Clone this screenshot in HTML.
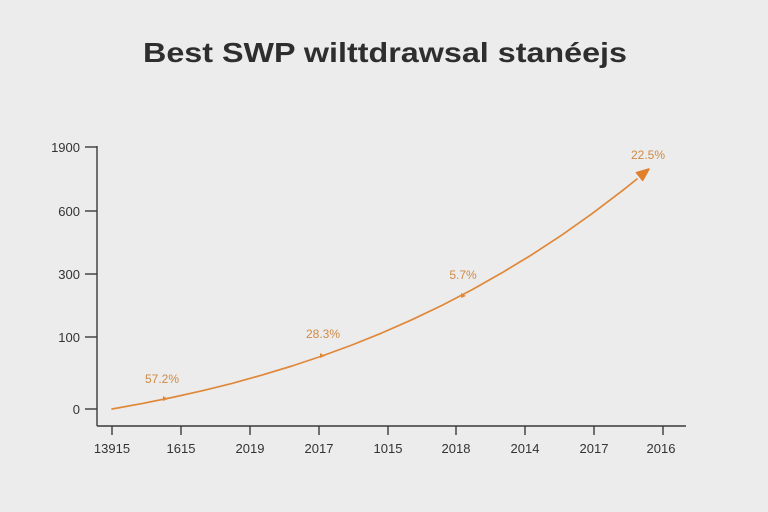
<!DOCTYPE html>
<html>
<head>
<meta charset="utf-8">
<style>
html,body{margin:0;padding:0;background:#ececec;}
svg{display:block;}
</style>
</head>
<body>
<svg width="768" height="512" viewBox="0 0 768 512" xmlns="http://www.w3.org/2000/svg">
<rect width="768" height="512" fill="#ececec"/>
<text x="385" y="62" text-anchor="middle" textLength="484" lengthAdjust="spacingAndGlyphs" font-family="Liberation Sans, DejaVu Sans, sans-serif" font-size="28" font-weight="bold" fill="#2e2e2e">Best SWP  wilttdrawsal stanéejs</text>

<g stroke="#3a3a3a" stroke-width="1.4" fill="none">
<line x1="97" y1="146" x2="97" y2="426"/>
<line x1="97" y1="426" x2="686" y2="426"/>
<line x1="85" y1="147" x2="97" y2="147"/>
<line x1="85" y1="211" x2="97" y2="211"/>
<line x1="85" y1="274" x2="97" y2="274"/>
<line x1="85" y1="337" x2="97" y2="337"/>
<line x1="85" y1="409" x2="97" y2="409"/>
<line x1="112" y1="426" x2="112" y2="435"/>
<line x1="181" y1="426" x2="181" y2="435"/>
<line x1="250" y1="426" x2="250" y2="435"/>
<line x1="319" y1="426" x2="319" y2="435"/>
<line x1="388" y1="426" x2="388" y2="435"/>
<line x1="456" y1="426" x2="456" y2="435"/>
<line x1="525" y1="426" x2="525" y2="435"/>
<line x1="594" y1="426" x2="594" y2="435"/>
<line x1="663" y1="426" x2="663" y2="435"/>
</g>

<g font-family="Liberation Sans, DejaVu Sans, sans-serif" font-size="13" fill="#333" text-anchor="end">
<text x="80" y="152">1900</text>
<text x="80" y="216">600</text>
<text x="80" y="279">300</text>
<text x="80" y="342">100</text>
<text x="80" y="414">0</text>
</g>
<g font-family="Liberation Sans, DejaVu Sans, sans-serif" font-size="13" fill="#333" text-anchor="middle">
<text x="112" y="453">13915</text>
<text x="181" y="453">1615</text>
<text x="250" y="453">2019</text>
<text x="319" y="453">2017</text>
<text x="388" y="453">1015</text>
<text x="456" y="453">2018</text>
<text x="525" y="453">2014</text>
<text x="594" y="453">2017</text>
<text x="661" y="453">2016</text>
</g>

<polyline points="112,409 142,403.6 172,397.5 202,390.8 232,383.4 262,375.1 292,366 322,356 352,345 382,332.9 412,319.7 442,305.4 472,289.8 502,272.8 532,254.6 562,234.9 592,213.7 622,190.9 637,179" fill="none" stroke="#e0883a" stroke-width="1.7" stroke-linejoin="round" stroke-linecap="round"/>
<polygon points="649,169 642.7,180.4 636.5,172.6" fill="#e07f2c" stroke="#e07f2c" stroke-width="1.5" stroke-linejoin="round"/>

<g fill="#e0883a">
<polygon points="163,396 168,399 163,401"/>
<polygon points="320,353 325,356 320,358"/>
<polygon points="461,293 466,296 461,298"/>
</g>

<g font-family="Liberation Sans, DejaVu Sans, sans-serif" font-size="12" fill="#d08a45" text-anchor="middle">
<text x="162" y="383">57.2%</text>
<text x="323" y="338">28.3%</text>
<text x="463" y="279">5.7%</text>
<text x="648" y="159">22.5%</text>
</g>
</svg>
</body>
</html>
